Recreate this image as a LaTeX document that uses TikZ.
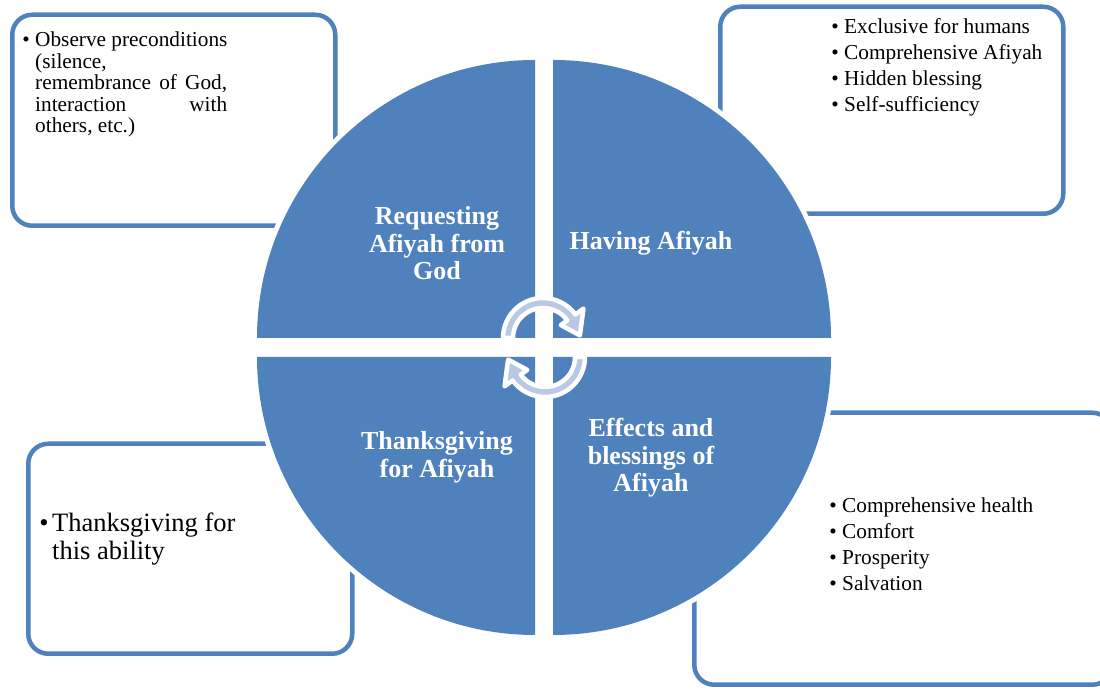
\documentclass[tikz,border=0pt]{standalone}
\usepackage{fontspec}
\setmainfont{Liberation Serif}
\definecolor{accent}{HTML}{4F81BD}
\definecolor{arrowfill}{HTML}{B9C8E3}

\begin{document}
\begin{tikzpicture}[x=1pt,y=1pt,
  infobox/.style={draw=accent, line width=4.5pt, rounded corners=20pt, fill=white,
                  anchor=south west, inner sep=0pt},
  quadrant/.style={fill=accent},
  halo/.style={fill=white, draw=white, line width=10pt, line join=round},
  label/.style={text=white, font=\fontsize{26}{27.5}\selectfont\bfseries,
                align=center, inner sep=0pt},
  smalltext/.style={anchor=base west, inner sep=0pt, font=\fontsize{21.3}{25}\selectfont},
  bigtext/.style={anchor=base west, inner sep=0pt, font=\fontsize{26.5}{28}\selectfont},
  smalldot/.style={anchor=base, inner sep=0pt, font=\fontsize{21.3}{25}\selectfont},
  bigdot/.style={anchor=base, inner sep=0pt, font=\fontsize{26.5}{28}\selectfont},
  cyclearrow/.style={fill=arrowfill, draw=white, line width=4.5pt, line join=round}
]
\useasboundingbox (0,0) rectangle (1100,690);
\begin{scope}
\clip (0,0) rectangle (1100,690);

% outer information boxes
\node[infobox, minimum width=323pt, minimum height=211pt] (box1) at (10,462) {};
\node[infobox, minimum width=343pt, minimum height=207pt] (box2) at (718,474) {};
\node[infobox, minimum width=324pt, minimum height=210pt] (box3) at (26,34) {};
\node[infobox, minimum width=418pt, minimum height=272pt] (box4) at (692,3) {};

% box 1: preconditions
\node[smalldot] (b1dot) at (26,643) {•};
\node[smalltext] (b1l1) at (35,643) {Observe preconditions};
\node[smalltext] (b1l2) at (35,621.5) {(silence,};
\node[smalltext] (b1l3) at (35,600) {\makebox[192pt][s]{remembrance of God,}};
\node[smalltext] (b1l4) at (35,578.5) {\makebox[192pt][s]{interaction\hfill with}};
\node[smalltext] (b1l5) at (35,557) {others, etc.)};

% box 2: having Afiyah
\foreach \t [count=\i] in {Exclusive for humans,Comprehensive Afiyah,Hidden blessing,Self-sufficiency}{
  \node[smalldot] (b2dot\i) at (835,{656-25.8*(\i-1)}) {•};
  \node[smalltext] (b2l\i) at (844,{656-25.8*(\i-1)}) {\t};
}

% box 3: thanksgiving
\node[bigdot] (b3dot) at (44,158) {•};
\node[bigtext] (b3l1) at (52,158) {Thanksgiving for};
\node[bigtext] (b3l2) at (52,130.5) {this ability};

% box 4: effects
\foreach \t [count=\i] in {Comprehensive health,Comfort,Prosperity,Salvation}{
  \node[smalldot] (b4dot\i) at (833,{177-25.7*(\i-1)}) {•};
  \node[smalltext] (b4l\i) at (842,{177-25.7*(\i-1)}) {\t};
}

% white halo around the quarter discs
\path[halo] (535,352) -- (535,630) arc[start angle=90,end angle=180,radius=278] -- cycle;
\path[halo] (553,352) -- (831,352) arc[start angle=0,end angle=90,radius=278] -- cycle;
\path[halo] (535,333) -- (257,333) arc[start angle=180,end angle=270,radius=278] -- cycle;
\path[halo] (553,333) -- (553,55) arc[start angle=270,end angle=360,radius=278] -- cycle;

% quarter discs
\path[quadrant] (535,352) -- (535,630) arc[start angle=90,end angle=180,radius=278] -- cycle;
\path[quadrant] (553,352) -- (831,352) arc[start angle=0,end angle=90,radius=278] -- cycle;
\path[quadrant] (535,333) -- (257,333) arc[start angle=180,end angle=270,radius=278] -- cycle;
\path[quadrant] (553,333) -- (553,55) arc[start angle=270,end angle=360,radius=278] -- cycle;

% quadrant titles
\node[label] (q1) at (437,446.5) {Requesting\\Afiyah from\\God};
\node[label] (q2) at (651,447) {Having Afiyah};
\node[label] (q3) at (437,232.5) {Thanksgiving\\for Afiyah};
\node[label] (q4) at (651,232) {Effects and\\blessings of\\Afiyah};

% circular arrows in the centre
\foreach \r in {0,180}{
  \begin{scope}[rotate around={\r:(544,342.5)}, shift={(543,352)}]
    \path[cyclearrow] (180:40) arc[start angle=180,end angle=36,radius=40]
      -- (36:50) -- (4:37) -- (36:22) -- (36:30)
      arc[start angle=36,end angle=180,radius=30] -- cycle;
  \end{scope}
}
\end{scope}
\end{tikzpicture}
\end{document}
